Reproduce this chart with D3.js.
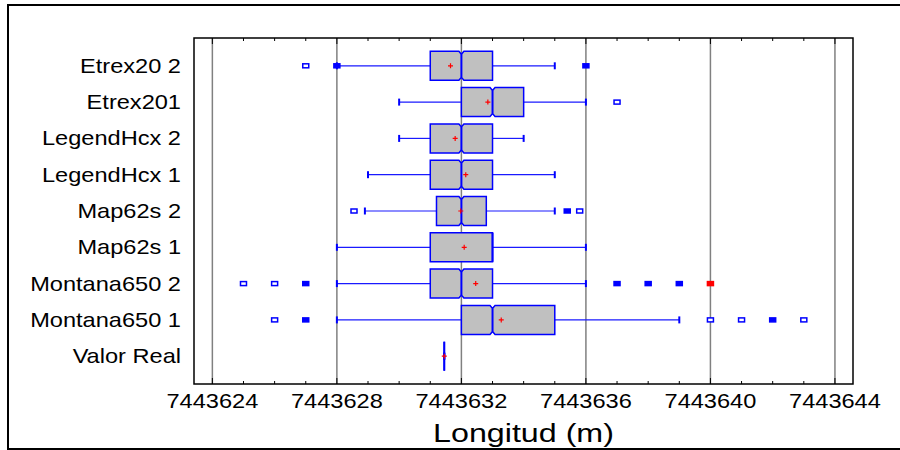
<!DOCTYPE html>
<html>
<head>
<meta charset="utf-8">
<script src="https://cdn.jsdelivr.net/npm/d3@7"></script>
<style>
  body { margin: 0; background: #fff; }
  svg { display: block; font-family: "Liberation Sans", Arial, sans-serif; }
</style>
</head>
<body>
<svg id="chart" width="900" height="450"></svg>
<script>
// series, top to bottom
var categories = ["Etrex20 2", "Etrex201", "LegendHcx 2", "LegendHcx 1", "Map62s 2",
    "Map62s 1", "Montana650 2", "Montana650 1", "Valor Real"];
var lowWhisker = [7443628, 7443630, 7443630, 7443629, 7443628.9, 7443628, 7443628, 7443628, 7443631.45];
var q1 = [7443631, 7443632, 7443631, 7443631, 7443631.2, 7443631, 7443631, 7443632, 7443631.45];
var medians = [7443632, 7443633, 7443632, 7443632, 7443632, 7443633, 7443632, 7443633, 7443631.45];
var q3 = [7443633, 7443634, 7443633, 7443633, 7443632.8, 7443633, 7443633, 7443635, 7443631.45];
var highWhisker = [7443635, 7443636, 7443634, 7443635, 7443635, 7443636, 7443636, 7443639, 7443631.45];
var means = [7443631.65, 7443632.85, 7443631.8, 7443632.14, 7443631.98, 7443632.09, 7443632.46, 7443633.28, 7443631.45];
// outside points: [value, how many points fall there]
var outliers = [
    [[7443627, 1], [7443628, 2], [7443636, 2]],
    [[7443637, 1]],
    [],
    [],
    [[7443628.55, 1], [7443635.4, 2], [7443635.8, 1]],
    [],
    [[7443625, 1], [7443626, 1], [7443627, 2], [7443637, 2], [7443638, 2], [7443639, 2], [7443640, 2]],
    [[7443626, 1], [7443627, 2], [7443640, 1], [7443641, 1], [7443642, 2], [7443643, 1]],
    []
];
var majorTicks = [7443624, 7443628, 7443632, 7443636, 7443640, 7443644];
var minorTicks = d3.range(7443624, 7443645, 1);
var xTitle = "Longitud (m)";

var plot = { left: 194, top: 38, right: 853, bottom: 384 };
var svg = d3.select("#chart");

var x = d3.scaleLinear()
    .domain([7443623.41, 7443644.58])
    .range([plot.left, plot.right]);
var y = d3.scalePoint()
    .domain(categories)
    .range([plot.top, plot.bottom])
    .padding(0.766);

var boxH = 29, capH = 7, notchW = 2.5, notchD = 3;
var stretch = 1.18; // the original text is drawn wide

var rows = categories.map((c, i) => ({
    name: c, lo: lowWhisker[i], q1: q1[i], med: medians[i], q3: q3[i],
    hi: highWhisker[i], mean: means[i], out: outliers[i]
}));

// outer frame
svg.append("path")
    .attr("d", "M905,5 H8 V449 H905")
    .attr("fill", "none")
    .attr("stroke", "#000")
    .attr("stroke-width", 2);

// vertical grid at the labelled values
svg.append("g").selectAll("line")
    .data(majorTicks)
    .join("line")
    .attr("x1", d => x(d)).attr("x2", d => x(d))
    .attr("y1", plot.top).attr("y2", plot.bottom)
    .attr("stroke", "#808080")
    .attr("stroke-width", 1.5);

// ticks, inside the frame on top and bottom
var ticks = svg.append("g").attr("stroke", "#000");
minorTicks.forEach(v => {
    var len = majorTicks.includes(v) ? 6 : 3;
    ticks.append("line")
        .attr("x1", x(v)).attr("x2", x(v))
        .attr("y1", plot.bottom).attr("y2", plot.bottom - len);
    ticks.append("line")
        .attr("x1", x(v)).attr("x2", x(v))
        .attr("y1", plot.top).attr("y2", plot.top + len);
});

var boxes = svg.append("g");

rows.forEach(d => {
    var cy = y(d.name);
    var g = boxes.append("g");

    // whiskers
    g.append("line")
        .attr("x1", x(d.lo)).attr("x2", x(d.q1))
        .attr("y1", cy).attr("y2", cy)
        .attr("stroke", "#1a1aff").attr("stroke-width", 1.2);
    g.append("line")
        .attr("x1", x(d.q3)).attr("x2", x(d.hi))
        .attr("y1", cy).attr("y2", cy)
        .attr("stroke", "#1a1aff").attr("stroke-width", 1.2);
    [d.lo, d.hi].forEach(v => {
        g.append("line")
            .attr("x1", x(v)).attr("x2", x(v))
            .attr("y1", cy - capH / 2).attr("y2", cy + capH / 2)
            .attr("stroke", "#0000ff").attr("stroke-width", 2);
    });

    // notched box
    var a = x(d.q1), b = x(d.q3), m = x(d.med);
    var t = cy - boxH / 2, bt = cy + boxH / 2;
    var notched = m - a > notchW && b - m > notchW;
    var p = d3.path();
    p.moveTo(a, t);
    if (notched) {
        p.lineTo(m - notchW, t); p.lineTo(m, t + notchD); p.lineTo(m + notchW, t);
        p.lineTo(b, t); p.lineTo(b, bt);
        p.lineTo(m + notchW, bt); p.lineTo(m, bt - notchD); p.lineTo(m - notchW, bt);
    } else {
        p.lineTo(b, t); p.lineTo(b, bt);
    }
    p.lineTo(a, bt);
    p.closePath();
    g.append("path")
        .attr("d", p.toString())
        .attr("fill", "#c0c0c0")
        .attr("stroke", "#0000ff")
        .attr("stroke-width", 1.5);
    g.append("line")
        .attr("x1", m).attr("x2", m)
        .attr("y1", t + (notched ? notchD : 0))
        .attr("y2", bt - (notched ? notchD : 0))
        .attr("stroke", "#0000ff").attr("stroke-width", 2);

    // outside points, far outside ones in red
    var iqr = d.q3 - d.q1;
    var far = o => o[0] > d.q3 + 3 * iqr || o[0] < d.q1 - 3 * iqr;
    g.selectAll("rect")
        .data(d.out)
        .join("rect")
        .attr("x", o => x(o[0]) - 3)
        .attr("y", cy - 2)
        .attr("width", 6).attr("height", 4)
        .attr("fill", o => far(o) ? "#ff0000" : (o[1] > 1 ? "#0000ff" : "#fff"))
        .attr("stroke", o => far(o) ? "#ff0000" : "#0000ff")
        .attr("stroke-width", 1.5);

    // mean
    var mx = x(d.mean);
    g.append("path")
        .attr("d", `M${mx - 2.5},${cy}H${mx + 2.5}M${mx},${cy - 2.5}V${cy + 2.5}`)
        .attr("stroke", "#ff0000")
        .attr("stroke-width", 1.2);
});

// plot frame
svg.append("rect")
    .attr("x", plot.left).attr("y", plot.top)
    .attr("width", plot.right - plot.left)
    .attr("height", plot.bottom - plot.top)
    .attr("fill", "none")
    .attr("stroke", "#000")
    .attr("stroke-width", 1.5);

// row labels
svg.append("g").selectAll("text")
    .data(categories)
    .join("text")
    .attr("transform", d => `translate(181,${y(d) + 7}) scale(${stretch},1)`)
    .attr("text-anchor", "end")
    .attr("font-size", 20)
    .text(d => d);

// tick labels
svg.append("g").selectAll("text")
    .data(majorTicks)
    .join("text")
    .attr("transform", d => `translate(${x(d)},408) scale(${stretch},1)`)
    .attr("text-anchor", "middle")
    .attr("font-size", 20)
    .text(d => d);

svg.append("text")
    .attr("transform", `translate(${(plot.left + plot.right) / 2},442) scale(1.24,1)`)
    .attr("text-anchor", "middle")
    .attr("font-size", 26)
    .text(xTitle);
</script>
</body>
</html>
